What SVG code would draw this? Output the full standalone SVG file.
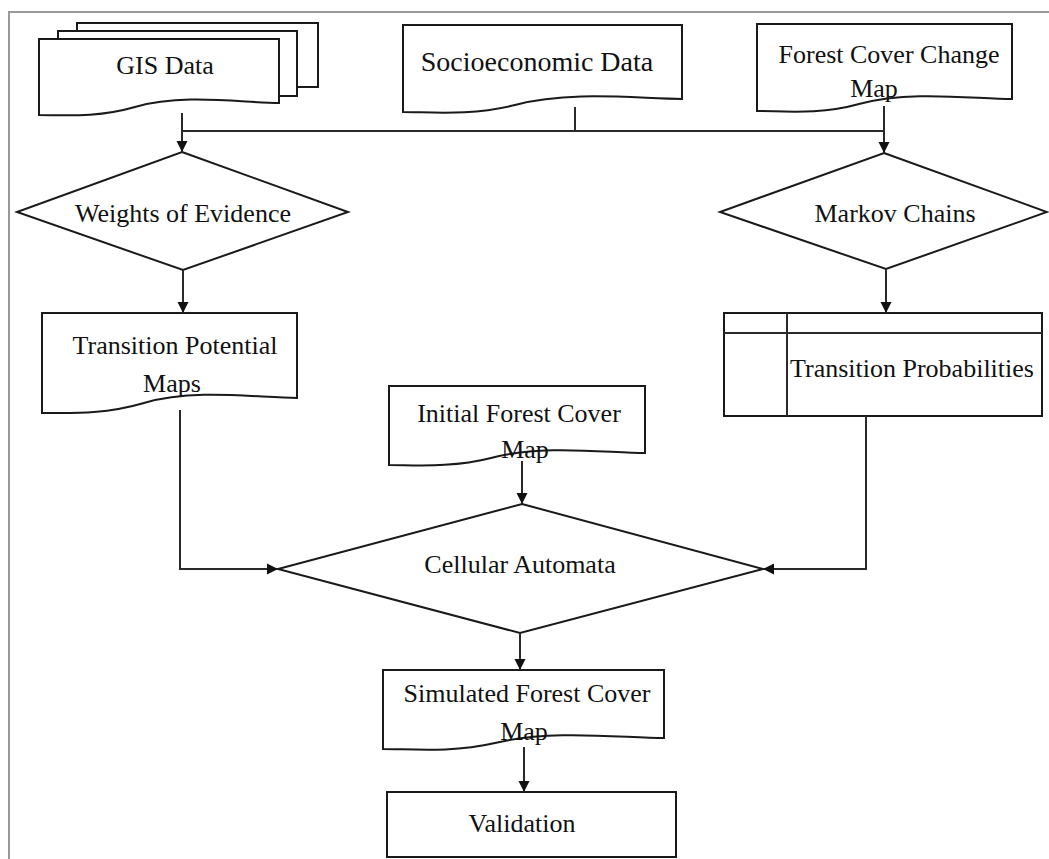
<svg xmlns="http://www.w3.org/2000/svg" width="1049" height="859" viewBox="0 0 1049 859">
<style>
.n{fill:#fff;stroke:#1a1a1a;stroke-width:2}
.c{fill:none;stroke:#2a2a2a;stroke-width:2}
.t{font-family:"Liberation Serif","Times New Roman",serif;font-size:26px;fill:#111;text-anchor:middle}
.f{fill:none;stroke:#999;stroke-width:2}
</style>
<defs>
<marker id="a" markerUnits="userSpaceOnUse" markerWidth="12" markerHeight="12" refX="11" refY="6" orient="auto">
<path d="M0,0.5 L11,6 L0,11.5 z" fill="#111"/>
</marker>
</defs>
<rect width="1049" height="859" fill="#fff"/>
<path class="f" d="M9,859 V12 H1049"/>
<g id="gis">
<rect class="n" x="77" y="23" width="241" height="64"/>
<rect class="n" x="58" y="31" width="239" height="65"/>
<path class="n" d="M39,39 H279 V103 C243,103 183,93 135,107 C97,118 63,115 39,115 Z"/>
<text class="t" x="165" y="74">GIS Data</text>
</g>
<g id="socio">
<path class="n" d="M403,25 H682 V99 C640,99 571,90 515,105 C471,116 431,112 403,112 Z"/>
<text class="t" x="537" y="71" style="font-size:28px">Socioeconomic Data</text>
</g>
<g id="fccm">
<path class="n" d="M757,24 H1012 V99 C974,99 911,90 859,104 C820,115 783,111 757,111 Z"/>
<text class="t" x="889" y="63">Forest Cover Change</text>
<text class="t" x="874" y="97">Map</text>
</g>
<g id="woe">
<path class="n" d="M182,152 L348,212 L183,270 L17,212 Z"/>
<text class="t" x="183" y="222">Weights of Evidence</text>
</g>
<g id="markov">
<path class="n" d="M884,153 L1047,212 L886,269 L720,212 Z"/>
<text class="t" x="895" y="222">Markov Chains</text>
</g>
<g id="tpm">
<path class="n" d="M42,313 H297 V398 C259,398 195,388 144,403 C103,415 69,413 42,413 Z"/>
<text class="t" x="175" y="354">Transition Potential</text>
<text class="t" x="172" y="392">Maps</text>
</g>
<g id="tp">
<rect class="n" x="724" y="313" width="318" height="103"/>
<path class="c" d="M724,333 H1042 M787,313 V416" stroke="#1a1a1a"/>
<text class="t" x="912" y="377">Transition Probabilities</text>
</g>
<g id="ifcm">
<path class="n" d="M389,386 H645 V453 C607,453 544,444 491,458 C452,468 415,465 389,465 Z"/>
<text class="t" x="519" y="422">Initial Forest Cover</text>
<text class="t" x="525" y="458">Map</text>
</g>
<g id="ca">
<path class="n" d="M522,504 L763,569 L520,633 L278,569 Z"/>
<text class="t" x="520" y="573">Cellular Automata</text>
</g>
<g id="sfcm">
<path class="n" d="M383,670 H664 V738 C622,738 553,729 495,743 C452,753 411,749 383,749 Z"/>
<text class="t" x="527" y="702">Simulated Forest Cover</text>
<text class="t" x="524" y="740">Map</text>
</g>
<g id="validation">
<rect class="n" x="387" y="792" width="289" height="65" stroke-width="3"/>
<text class="t" x="522" y="832">Validation</text>
</g>
<g id="connectors">
<path class="c" d="M182,113 V152" marker-end="url(#a)"/>
<path class="c" d="M182,131 H884"/>
<path class="c" d="M575,107 V131"/>
<path class="c" d="M884,106 V153" marker-end="url(#a)"/>
<path class="c" d="M183,270 V313" marker-end="url(#a)"/>
<path class="c" d="M886,269 V313" marker-end="url(#a)"/>
<path class="c" d="M180,410 V569 H278" marker-end="url(#a)"/>
<path class="c" d="M866,416 V569 H763" marker-end="url(#a)"/>
<path class="c" d="M522,461 V504" marker-end="url(#a)"/>
<path class="c" d="M520,633 V670" marker-end="url(#a)"/>
<path class="c" d="M524,747 V792" marker-end="url(#a)"/>
</g>
</svg>
